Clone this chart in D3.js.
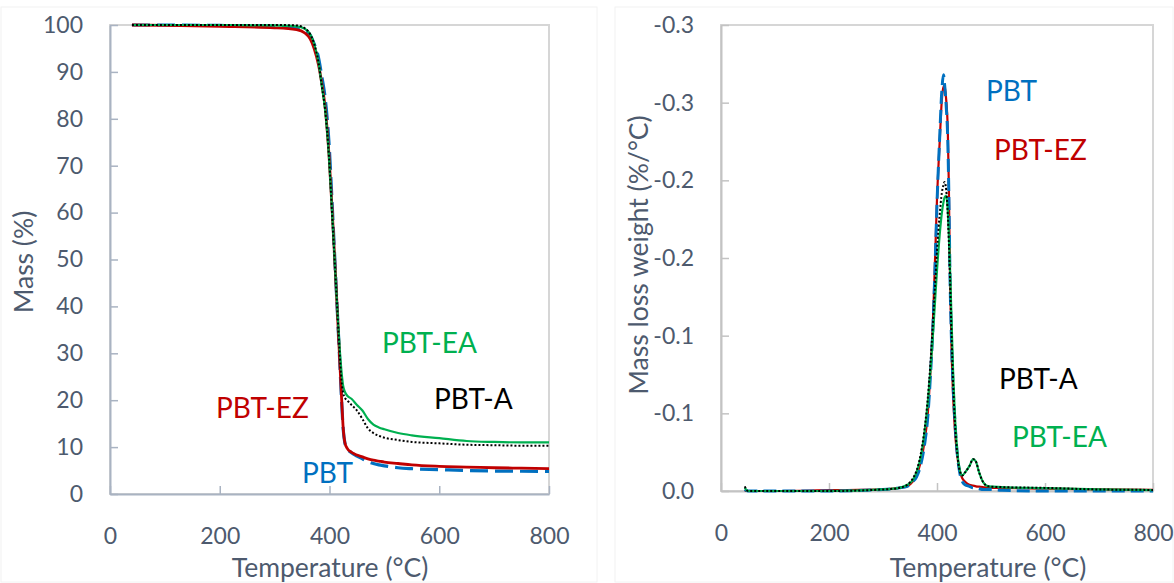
<!DOCTYPE html>
<html>
<head>
<meta charset="utf-8">
<script src="https://cdn.jsdelivr.net/npm/d3@7"></script>
<style>
  body { margin: 0; background: #fff; }
  svg { display: block; font-family: Lato, "Open Sans", sans-serif; }
  .tick text { fill: #4d5a6e; font-size: 23px; }
</style>
</head>
<body>
<div id="chart"></div>
<script>
// TGA (left) - mass % vs temperature
const tgaTemp = [40, 100, 200, 300, 340, 355, 365, 372, 380, 386, 392, 399, 406, 413, 418, 422, 425, 428, 432, 440, 450, 460, 470, 480, 490, 500, 525, 550, 600, 650, 700, 750, 800];
const tgaPBT   = [100, 100, 99.9, 99.7, 99.4, 98.9, 97.8, 96, 93, 89, 84.5, 75, 59, 42, 30, 20, 13.8, 10.9, 9.7, 8.8, 8.1, 7.5, 6.9, 6.5, 6.2, 6.0, 5.6, 5.4, 5.2, 5.0, 4.9, 4.85, 4.8];
const tgaPBTEZ = [100, 99.9, 99.7, 99.4, 99.0, 98.3, 97, 95, 91.5, 87.5, 82.5, 72.5, 58, 42, 30, 20.5, 14, 11, 9.8, 8.9, 8.3, 7.9, 7.5, 7.2, 7.0, 6.8, 6.5, 6.2, 5.9, 5.75, 5.6, 5.5, 5.4];
const tgaPBTA  = [100, 100, 100, 100, 99.9, 99.3, 98, 96, 92, 87, 82, 72, 57, 42, 31, 24, 21.5, 20.5, 20, 19, 17.8, 16, 14, 13, 12.4, 12.0, 11.5, 11.1, 10.8, 10.5, 10.4, 10.3, 10.3];
const tgaPBTEA = [100, 100, 100, 99.9, 99.7, 99.2, 98, 96, 92, 87, 82, 72, 57.5, 42, 32, 26, 23, 21.8, 21, 20.3, 19, 17.8, 16, 14.8, 14.2, 13.8, 13.0, 12.5, 11.9, 11.3, 11.1, 11.0, 11.0];

// DTG (right) - mass loss rate vs temperature
const dtgTemp = [44, 50, 100, 200, 300, 330, 345, 355, 362, 370, 377, 383, 388, 392, 396, 400, 405, 409, 412, 414, 417, 420, 422, 424, 427, 430, 433, 437, 442, 447, 452, 460, 467, 472, 478, 485, 495, 520, 600, 700, 800];
const dtgPBT   = [-0.001, 0, 0, 0, -0.001, -0.002, -0.003, -0.006, -0.009, -0.017, -0.030, -0.048, -0.075, -0.102, -0.14, -0.185, -0.228, -0.258, -0.268, -0.262, -0.248, -0.225, -0.19, -0.14, -0.095, -0.066, -0.046, -0.026, -0.012, -0.006, -0.004, -0.003, -0.002, -0.002, -0.0015, -0.001, -0.001, -0.0005, 0, 0, 0];
const dtgPBTEZ = [0, 0, 0, -0.0005, -0.001, -0.002, -0.003, -0.006, -0.01, -0.019, -0.032, -0.05, -0.078, -0.105, -0.145, -0.188, -0.225, -0.252, -0.26, -0.261, -0.252, -0.232, -0.195, -0.14, -0.09, -0.06, -0.04, -0.024, -0.013, -0.008, -0.006, -0.004, -0.0035, -0.003, -0.0028, -0.0025, -0.002, -0.002, -0.0015, -0.001, -0.0007];
const dtgPBTA  = [-0.003, 0, 0, 0, -0.001, -0.002, -0.004, -0.008, -0.013, -0.024, -0.04, -0.06, -0.083, -0.105, -0.13, -0.155, -0.178, -0.192, -0.197, -0.199, -0.194, -0.178, -0.16, -0.138, -0.1, -0.068, -0.045, -0.026, -0.013, -0.01, -0.012, -0.016, -0.0205, -0.019, -0.012, -0.006, -0.003, -0.0025, -0.002, -0.001, -0.0007];
const dtgPBTEA = [-0.002, 0, 0, 0, -0.001, -0.002, -0.004, -0.007, -0.012, -0.022, -0.038, -0.057, -0.078, -0.098, -0.12, -0.142, -0.165, -0.179, -0.186, -0.189, -0.19, -0.18, -0.165, -0.145, -0.11, -0.075, -0.05, -0.028, -0.014, -0.01, -0.012, -0.016, -0.0205, -0.019, -0.012, -0.006, -0.003, -0.0025, -0.0018, -0.001, -0.0005];

// ticks
const xTicks = [0, 200, 400, 600, 800];
const massTicks = [0, 10, 20, 30, 40, 50, 60, 70, 80, 90, 100];
const dtgTicks = [0, -0.05, -0.1, -0.15, -0.2, -0.25, -0.3];
const dtgTickLabels = ["0.0", "-0.1", "-0.1", "-0.2", "-0.2", "-0.3", "-0.3"];

const C = { PBT: "#0070c0", EZ: "#c00000", A: "#000000", EA: "#00b050" };
const textCol = "#4d5a6e";

const svg = d3.select("#chart").append("svg")
    .attr("width", 1174)
    .attr("height", 583);

// faint outer chart frames
svg.append("rect").attr("x", 1).attr("y", 7).attr("width", 596).attr("height", 575)
    .attr("fill", "none").attr("stroke", "#f2f2f2");
svg.append("rect").attr("x", 615).attr("y", 7).attr("width", 558).attr("height", 575)
    .attr("fill", "none").attr("stroke", "#f2f2f2");

function drawPanel(opt) {
    const g = svg.append("g");
    const x = opt.x, y = opt.y;

    // plot border
    g.append("rect")
        .attr("x", x.range()[0]).attr("y", y.range()[1])
        .attr("width", x.range()[1] - x.range()[0])
        .attr("height", y.range()[0] - y.range()[1])
        .attr("fill", "none")
        .attr("stroke", "#d6d6d6")
        .attr("stroke-width", 2);

    const xAxis = g.append("g")
        .attr("transform", `translate(0,${y.range()[0]})`)
        .call(d3.axisBottom(x).tickValues(xTicks).tickSizeInner(-8).tickSizeOuter(0).tickPadding(34));
    const yAxis = g.append("g")
        .attr("transform", `translate(${x.range()[0]},0)`)
        .call(d3.axisLeft(y).tickValues(opt.yTicks).tickFormat(opt.yFormat)
            .tickSizeInner(-8).tickSizeOuter(0).tickPadding(27));
    [xAxis, yAxis].forEach(a => {
        a.select(".domain").attr("stroke", opt.axisCol).attr("stroke-width", 2);
        a.selectAll(".tick line").attr("stroke", opt.axisCol).attr("stroke-width", 1.5);
        a.selectAll(".tick text").style("font-family", "Lato, sans-serif");
    });

    // lines
    const line = d3.line()
        .x(d => x(d[0]))
        .y(d => y(d[1]))
        .curve(d3.curveMonotoneX);

    opt.series.forEach(s => {
        g.append("path")
            .datum(opt.temp.map((t, i) => [t, s.values[i]]))
            .attr("d", line)
            .attr("fill", "none")
            .attr("stroke", s.color)
            .attr("stroke-width", s.width)
            .attr("stroke-dasharray", s.dash || null)
            .attr("stroke-linejoin", "round");
    });

    // series labels
    opt.labels.forEach(l => {
        g.append("text")
            .attr("x", l.x).attr("y", l.y)
            .attr("fill", l.color)
            .style("font-size", "28px")
            .text(l.text);
    });

    // axis titles
    g.append("text")
        .attr("x", opt.xTitle[0]).attr("y", opt.xTitle[1])
        .attr("text-anchor", "middle")
        .attr("fill", textCol)
        .style("font-size", "26.5px")
        .text("Temperature (°C)");
    g.append("text")
        .attr("transform", `translate(${opt.yTitle[0]},${opt.yTitle[1]}) rotate(-90)`)
        .attr("text-anchor", "middle")
        .attr("fill", textCol)
        .style("font-size", "26.5px")
        .text(opt.yTitleText);
}

drawPanel({
    x: d3.scaleLinear().domain([0, 800]).range([110, 549]),
    y: d3.scaleLinear().domain([0, 100]).range([494, 25]),
    yTicks: massTicks,
    yFormat: d3.format("d"),
    axisCol: "#a9b3c2",
    temp: tgaTemp,
    series: [
        { values: tgaPBT, color: C.PBT, width: 3.2, dash: "18,7" },
        { values: tgaPBTEZ, color: C.EZ, width: 2.8 },
        { values: tgaPBTEA, color: C.EA, width: 2.2 },
        { values: tgaPBTA, color: C.A, width: 2, dash: "2,2" }
    ],
    labels: [
        { text: "PBT-EA", x: 382, y: 353, color: C.EA },
        { text: "PBT-A", x: 434, y: 409, color: C.A },
        { text: "PBT-EZ", x: 216, y: 418, color: C.EZ },
        { text: "PBT", x: 302, y: 483, color: C.PBT }
    ],
    xTitle: [330, 577],
    yTitle: [33, 262],
    yTitleText: "Mass (%)"
});

drawPanel({
    x: d3.scaleLinear().domain([0, 800]).range([721, 1153]),
    y: d3.scaleLinear().domain([0, -0.3]).range([491, 25]),
    yTicks: dtgTicks,
    yFormat: (d, i) => dtgTickLabels[i],
    axisCol: "#c3c3c3",
    temp: dtgTemp,
    series: [
        { values: dtgPBTEZ, color: C.EZ, width: 2.2 },
        { values: dtgPBT, color: C.PBT, width: 3, dash: "13,6" },
        { values: dtgPBTEA, color: C.EA, width: 2.2 },
        { values: dtgPBTA, color: C.A, width: 2, dash: "2,2" }
    ],
    labels: [
        { text: "PBT", x: 986, y: 101, color: C.PBT },
        { text: "PBT-EZ", x: 994, y: 160, color: C.EZ },
        { text: "PBT-A", x: 999, y: 389, color: C.A },
        { text: "PBT-EA", x: 1012, y: 447, color: C.EA }
    ],
    xTitle: [988, 577],
    yTitle: [648, 255],
    yTitleText: "Mass loss weight (%/°C)"
});
</script>
</body>
</html>
